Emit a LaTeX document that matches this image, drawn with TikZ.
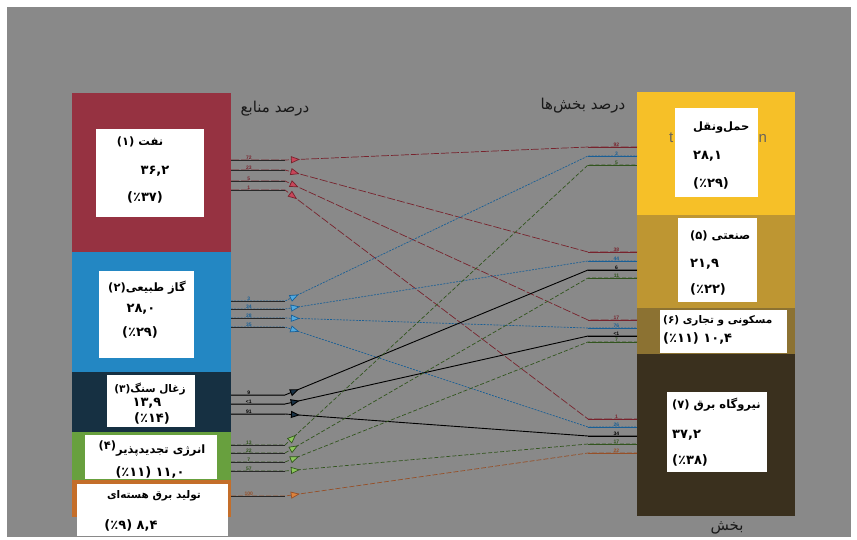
\documentclass[tikz,border=0pt]{standalone}
\usepackage{fontspec}
\usetikzlibrary{arrows.meta, positioning, decorations.markings}
\TeXXeTstate=1
\newfontfamily\fa[Script=Arabic]{DejaVu Sans}
\newfontfamily\lat{Liberation Sans}
\definecolor{BgGray}{RGB}{137, 137, 137}
\definecolor{OilRed}{RGB}{150, 50, 65}
\definecolor{GasBlue}{RGB}{35, 135, 195}
\definecolor{CoalNavy}{RGB}{22, 48, 66}
\definecolor{RenewGreen}{RGB}{104, 160, 62}
\definecolor{NucOrange}{RGB}{196, 110, 42}
\definecolor{TransYellow}{RGB}{246, 192, 40}
\definecolor{IndGold}{RGB}{190, 150, 50}
\definecolor{ResOlive}{RGB}{140, 114, 50}
\definecolor{ElecBrown}{RGB}{58, 48, 30}
\definecolor{OilLine}{RGB}{120, 35, 45}
\definecolor{GasLine}{RGB}{25, 95, 150}
\definecolor{RenewLine}{RGB}{50, 85, 30}
\definecolor{NucLine}{RGB}{150, 80, 40}
\definecolor{StubDark}{RGB}{40, 40, 40}
\definecolor{OilTip}{RGB}{200, 70, 90}
\definecolor{GasTip}{RGB}{80, 170, 225}
\definecolor{CoalTip}{RGB}{25, 50, 70}
\definecolor{RenewTip}{RGB}{140, 200, 90}
\definecolor{NucTip}{RGB}{220, 130, 60}
\definecolor{GhostGray}{RGB}{105, 100, 90}

\begin{document}
\begin{tikzpicture}[x=1pt, y=-1pt,
    srcbar/.style={inner sep=0pt, outer sep=0pt, minimum width=159pt},
    secbar/.style={inner sep=0pt, outer sep=0pt, minimum width=158pt},
    whitebox/.style={fill=white, inner sep=0pt, outer sep=0pt},
    numtxt/.style={font=\fa\bfseries\fontsize{13}{15}\selectfont, inner sep=0pt},
    wordtxt/.style={font=\fa\bfseries\fontsize{11.5}{13}\selectfont, inner sep=0pt},
    smalltxt/.style={font=\fa\bfseries\fontsize{10.5}{12}\selectfont, inner sep=0pt},
    headtxt/.style={font=\fa\fontsize{15}{17}\selectfont, text=black!90, inner sep=0pt},
    ghosttxt/.style={font=\lat\fontsize{15}{18}\selectfont, text=GhostGray, inner sep=0pt, anchor=west},
    pct/.style={font=\lat\bfseries\fontsize{5}{6}\selectfont, inner sep=0.4pt, anchor=south},
    flowtip/.style={postaction={decorate, decoration={markings,
        mark=at position 69pt with {\arrow[solid]{Triangle[length=9pt, width=7pt, fill=#1]}}}}},
    oilflow/.style={OilLine, line width=0.7pt, dash pattern=on 8pt off 2pt, flowtip=OilTip},
    gasflow/.style={GasLine, line width=0.7pt, dash pattern=on 2pt off 1.2pt, flowtip=GasTip},
    coalflow/.style={black, line width=0.9pt, flowtip=CoalTip},
    renewflow/.style={RenewLine, line width=0.7pt, dash pattern=on 4pt off 2pt, flowtip=RenewTip},
    nucflow/.style={NucLine, line width=0.7pt, dash pattern=on 5pt off 2pt, flowtip=NucTip},
    stub/.style={line width=0.9pt}]
    \useasboundingbox (0,0) rectangle (857,539);
    \fill[white] (0,0) rectangle (857,539);
    \fill[BgGray] (7,7) rectangle (851,537);

    % sources
    \node[srcbar, fill=OilRed, minimum height=159pt, anchor=north west] (oil) at (72,93) {};
    \node[srcbar, fill=GasBlue, minimum height=120pt, below=0pt of oil] (gas) {};
    \node[srcbar, fill=CoalNavy, minimum height=60pt, below=0pt of gas] (coal) {};
    \node[srcbar, fill=RenewGreen, minimum height=48pt, below=0pt of coal] (renew) {};
    \node[srcbar, fill=NucOrange, minimum height=37pt, below=0pt of renew] (nuc) {};

    % sectors
    \node[secbar, fill=TransYellow, minimum height=123pt, anchor=north west] (trans) at (637,92) {};
    \node[secbar, fill=IndGold, minimum height=93pt, below=0pt of trans] (ind) {};
    \node[secbar, fill=ResOlive, minimum height=46pt, below=0pt of ind] (res) {};
    \node[secbar, fill=ElecBrown, minimum height=162pt, below=0pt of res] (elec) {};
    \node[ghosttxt] (ghostt) at (669,138) {t};
    \node[ghosttxt] (ghostn) at (758.5,138) {n};

    % white boxes
    \node[whitebox, minimum width=108pt, minimum height=88pt] (oilbox) at (150,173) {};
    \node[whitebox, minimum width=95pt, minimum height=87pt] (gasbox) at (146.5,314.5) {};
    \node[whitebox, minimum width=88pt, minimum height=52pt] (coalbox) at (151,401) {};
    \node[whitebox, minimum width=132pt, minimum height=44pt] (renewbox) at (151,457) {};
    \node[whitebox, minimum width=151pt, minimum height=52pt] (nucbox) at (152.5,510) {};
    \node[whitebox, minimum width=83pt, minimum height=89pt] (transbox) at (716.5,152.5) {};
    \node[whitebox, minimum width=79pt, minimum height=84pt] (indbox) at (717.5,260) {};
    \node[whitebox, minimum width=127pt, minimum height=43pt] (resbox) at (723.5,331.5) {};
    \node[whitebox, minimum width=100pt, minimum height=80pt] (elecbox) at (717,432) {};

    % box texts
    \node[wordtxt] (oila) at (140,142) {\beginR نفت (۱)\endR};
    \node[numtxt] (oilb) at (155,171) {۳۶,۲};
    \node[numtxt] (oilc) at (145,197) {(٪۳۷)};
    \node[wordtxt] (gasa) at (147,288) {\beginR گاز طبیعی(۲)\endR};
    \node[numtxt] (gasb) at (141,309) {۲۸,۰};
    \node[numtxt] (gasc) at (140,332) {(٪۲۹)};
    \node[smalltxt] (coala) at (150,389) {\beginR زغال سنگ(۳)\endR};
    \node[numtxt] (coalb) at (147,403.5) {۱۳,۹};
    \node[numtxt] (coalc) at (152,418) {(٪۱۴)};
    \node[wordtxt] (renewa) at (152,449) {\beginR انرژی تجدیدپذیر\raisebox{4pt}{(۴)}\endR};
    \node[numtxt] (renewb) at (150,472) {\beginR ۱۱,۰ (٪۱۱)\endR};
    \node[smalltxt] (nuca) at (154,496) {\beginR تولید برق هسته‌ای\endR};
    \node[numtxt] (nucb) at (131,525) {\beginR ۸,۴ (٪۹)\endR};
    \node[wordtxt, anchor=west] (transa) at (693,128) {حمل‌ونقل};
    \node[numtxt, anchor=west] (transb) at (693,156) {۲۸,۱};
    \node[numtxt, anchor=west] (transc) at (693,183) {(٪۲۹)};
    \node[wordtxt, anchor=west] (inda) at (690,236) {\beginR صنعتی (۵)\endR};
    \node[numtxt, anchor=west] (indb) at (690,264) {۲۱,۹};
    \node[numtxt, anchor=west] (indc) at (690,289) {(٪۲۲)};
    \node[smalltxt, anchor=west] (resa) at (663,321) {\beginR مسکونی و تجاری (۶)\endR};
    \node[numtxt, anchor=west] (resb) at (663,338) {\beginR ۱۰,۴ (٪۱۱)\endR};
    \node[wordtxt, anchor=west] (eleca) at (672,405) {\beginR نیروگاه برق (۷)\endR};
    \node[numtxt, anchor=west] (elecb) at (672,435) {۳۷,۲};
    \node[numtxt, anchor=west] (elecc) at (672,460) {(٪۳۸)};

    % headings
    \node[headtxt] (srchead) at (275,109) {\beginR درصد منابع\endR};
    \node[headtxt] (sechead) at (583,106) {\beginR درصد بخش‌ها\endR};
    \node[headtxt] (secfoot) at (727,528) {بخش};

    % ports
    \coordinate (o1) at (231,160); \coordinate (o2) at (231,170);
    \coordinate (o3) at (231,181); \coordinate (o4) at (231,190);
    \coordinate (g1) at (231,301); \coordinate (g2) at (231,309);
    \coordinate (g3) at (231,318); \coordinate (g4) at (231,327);
    \coordinate (c1) at (231,395); \coordinate (c2) at (231,404);
    \coordinate (c3) at (231,414);
    \coordinate (r1) at (231,445); \coordinate (r2) at (231,453);
    \coordinate (r3) at (231,462); \coordinate (r4) at (231,471);
    \coordinate (n1) at (231,496);
    \coordinate (t1) at (637,147); \coordinate (t2) at (637,156);
    \coordinate (t3) at (637,165);
    \coordinate (i1) at (637,252); \coordinate (i2) at (637,261);
    \coordinate (i3) at (637,270); \coordinate (i4) at (637,278);
    \coordinate (h1) at (637,320); \coordinate (h2) at (637,328);
    \coordinate (h3) at (637,336); \coordinate (h4) at (637,342);
    \coordinate (e1) at (637,419); \coordinate (e2) at (637,427);
    \coordinate (e3) at (637,436); \coordinate (e4) at (637,444);
    \coordinate (e5) at (637,453);

    % flows
    \draw[oilflow] (o1) -- node[pct, pos=0.33, OilLine] {72} ([xshift=54pt]o1) -- ([xshift=-49pt]t1) -- node[pct, pos=0.58, OilLine] {92} (t1);
    \draw[oilflow] (o2) -- node[pct, pos=0.33, OilLine] {23} ([xshift=54pt]o2) -- ([xshift=-49pt]i1) -- node[pct, pos=0.58, OilLine] {38} (i1);
    \draw[oilflow] (o3) -- node[pct, pos=0.33, OilLine] {5} ([xshift=54pt]o3) -- ([xshift=-49pt]h1) -- node[pct, pos=0.58, OilLine] {17} (h1);
    \draw[oilflow] (o4) -- node[pct, pos=0.33, OilLine] {1} ([xshift=54pt]o4) -- ([xshift=-49pt]e1) -- node[pct, pos=0.58, OilLine] {1} (e1);
    \draw[gasflow] (g1) -- node[pct, pos=0.33, GasLine] {3} ([xshift=54pt]g1) -- ([xshift=-49pt]t2) -- node[pct, pos=0.58, GasLine] {3} (t2);
    \draw[gasflow] (g2) -- node[pct, pos=0.33, GasLine] {34} ([xshift=54pt]g2) -- ([xshift=-49pt]i2) -- node[pct, pos=0.58, GasLine] {44} (i2);
    \draw[gasflow] (g3) -- node[pct, pos=0.33, GasLine] {28} ([xshift=54pt]g3) -- ([xshift=-49pt]h2) -- node[pct, pos=0.58, GasLine] {76} (h2);
    \draw[gasflow] (g4) -- node[pct, pos=0.33, GasLine] {35} ([xshift=54pt]g4) -- ([xshift=-49pt]e2) -- node[pct, pos=0.58, GasLine] {26} (e2);
    \draw[coalflow] (c1) -- node[pct, pos=0.33] {9} ([xshift=54pt]c1) -- ([xshift=-49pt]i3) -- node[pct, pos=0.58] {6} (i3);
    \draw[coalflow] (c2) -- node[pct, pos=0.33] {<1} ([xshift=54pt]c2) -- ([xshift=-49pt]h3) -- node[pct, pos=0.58] {<1} (h3);
    \draw[coalflow] (c3) -- node[pct, pos=0.33] {91} ([xshift=54pt]c3) -- ([xshift=-49pt]e3) -- node[pct, pos=0.58] {34} (e3);
    \draw[renewflow] (r1) -- node[pct, pos=0.33, RenewLine] {13} ([xshift=54pt]r1) -- ([xshift=-49pt]t3) -- node[pct, pos=0.58, RenewLine] {5} (t3);
    \draw[renewflow] (r2) -- node[pct, pos=0.33, RenewLine] {22} ([xshift=54pt]r2) -- ([xshift=-49pt]i4) -- node[pct, pos=0.58, RenewLine] {11} (i4);
    \draw[renewflow] (r3) -- node[pct, pos=0.33, RenewLine] {7} ([xshift=54pt]r3) -- ([xshift=-49pt]h4) -- node[pct, pos=0.58, RenewLine] {7} (h4);
    \draw[renewflow] (r4) -- node[pct, pos=0.33, RenewLine] {57} ([xshift=54pt]r4) -- ([xshift=-49pt]e4) -- node[pct, pos=0.58, RenewLine] {17} (e4);
    \draw[nucflow] (n1) -- node[pct, pos=0.33, NucLine] {100} ([xshift=54pt]n1) -- ([xshift=-49pt]e5) -- node[pct, pos=0.58, NucLine] {22} (e5);

    % solid stubs at both ends
    \foreach \p in {o1,o2,o3,o4,g1,g2,g3,g4,c1,c2,c3,r1,r2,r3,r4,n1}
        \draw[stub, StubDark] (\p) -- ([xshift=54pt]\p);
    \foreach \p/\c in {t1/OilLine,t2/GasLine,t3/RenewLine,i1/OilLine,i2/GasLine,i3/black,i4/RenewLine,
                       h1/OilLine,h2/GasLine,h3/black,h4/RenewLine,e1/OilLine,e2/GasLine,e3/black,e4/RenewLine,e5/NucLine}
        \draw[stub, \c] ([xshift=-49pt]\p) -- (\p);
\end{tikzpicture}
\end{document}
